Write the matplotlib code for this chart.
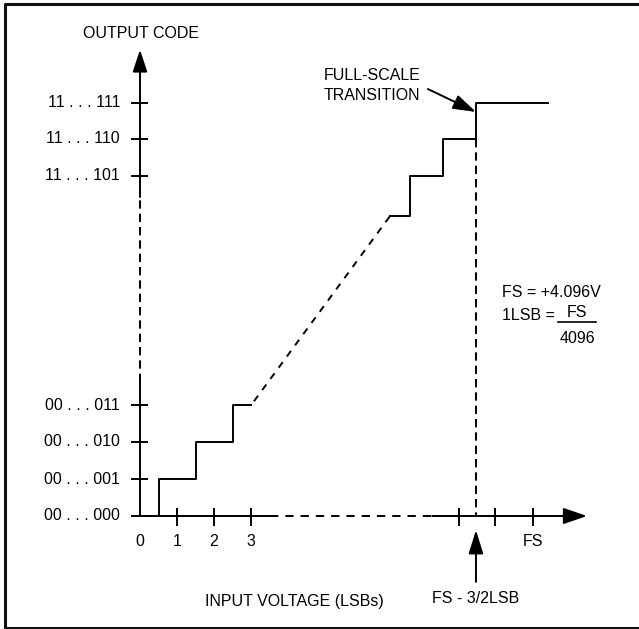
import matplotlib
matplotlib.use('Agg')
import matplotlib.pyplot as plt

plt.rcParams['font.family'] = ['Liberation Sans', 'DejaVu Sans']
plt.rcParams['lines.scale_dashes'] = False

# output codes (y, in LSB steps) and their labels
code_pos = [0, 1, 2, 3, 9.2, 10.2, 11.17]
code_lbl = ['00 . . . 000', '00 . . . 001', '00 . . . 010', '00 . . . 011',
            '11 . . . 101', '11 . . . 110', '11 . . . 111']

# input voltage ticks (x, in LSBs)
vin_pos = [1, 2, 3, 8.62, 9.59, 10.62]
vin_lbl = ['1', '2', '3', '', '', 'FS']

# transfer function: low end and top end of the staircase
low_x = [0, 0.5, 0.5, 1.5, 1.5, 2.5, 2.5, 3.0]
low_y = [0, 0, 1, 1, 2, 2, 3, 3]
high_x = [6.76, 7.3, 7.3, 8.19, 8.19, 9.08, 9.08, 11.03]
high_y = [8.11, 8.11, 9.2, 9.2, 10.2, 10.2, 11.17, 11.17]
fs_trans = 9.08   # FS - 3/2 LSB

px = 37.0  # pixels per LSB
x0, y0 = 140, 516  # origin in pixels

fig = plt.figure(figsize=(6.39, 6.29), dpi=100)
ax = fig.add_axes([0, 0, 1, 1])
ax.set_xlim(-x0 / px, (639 - x0) / px)
ax.set_ylim((y0 - 629) / px, y0 / px)
ax.axis('off')

lw = 1.4
dash = (0, (6, 3.6))
fs = 11.5

# frame
ax.plot([1, 4.5 / 639, 4.5 / 639, 1], [1 - 3.5 / 629, 1 - 3.5 / 629, 1.5 / 629, 1.5 / 629],
        color='#111111', lw=2.2, transform=ax.transAxes, clip_on=False)

# y axis
ax.plot([0, 0], [0, 3.62], color='black', lw=lw)
ax.plot([0, 0], [3.62, 8.62], color='black', lw=lw, ls=dash)
ax.annotate('', xy=(0, 12.6), xytext=(0, 8.62),
            arrowprops=dict(arrowstyle='-|>,head_length=1.35,head_width=0.45',
                            mutation_scale=10, color='black', lw=lw, shrinkA=0, shrinkB=0))
# x axis
ax.plot([0, 3.51], [0, 0], color='black', lw=lw)
ax.plot([3.51, 7.9], [0, 0], color='black', lw=lw, ls=(0, (6, 5)))
ax.annotate('', xy=(12.08, 0), xytext=(7.9, 0),
            arrowprops=dict(arrowstyle='-|>,head_length=1.45,head_width=0.5',
                            mutation_scale=10, color='black', lw=lw, shrinkA=0, shrinkB=0))

# ticks
ax.hlines(code_pos, -0.24, 0.22, color='black', lw=lw)
ax.vlines(vin_pos, -0.27, 0.22, color='black', lw=lw)
for y, s in zip(code_pos, code_lbl):
    ax.text(-0.54, y, s, ha='right', va='center', fontsize=fs)
ax.text(0, -0.7, '0', ha='center', va='center', fontsize=fs)
for x, s in zip(vin_pos, vin_lbl):
    ax.text(x, -0.7, s, ha='center', va='center', fontsize=fs)

# staircase
ax.plot(low_x, low_y, color='black', lw=lw)
ax.plot([3.08, high_x[0]], [3.1, high_y[0]], color='black', lw=lw, ls=(0, (5, 5)))
ax.plot(high_x, high_y, color='black', lw=lw)
ax.plot([fs_trans, fs_trans], [10.2, 0], color='black', lw=lw, ls=dash)

# annotations
ax.text(0.03, 13.05, 'OUTPUT CODE', ha='center', va='center', fontsize=fs)
ax.text(4.16, -2.3, 'INPUT VOLTAGE (LSBs)', ha='center', va='center', fontsize=fs)
ax.annotate('', xy=(fs_trans, -0.38), xytext=(fs_trans, -1.78),
            arrowprops=dict(arrowstyle='-|>,head_length=1.45,head_width=0.45',
                            mutation_scale=10, color='black', lw=lw, shrinkA=0, shrinkB=0))
ax.text(fs_trans, -2.24, 'FS - 3/2LSB', ha='center', va='center', fontsize=fs)
ax.annotate('', xy=(fs_trans, 10.92), xytext=(7.78, 11.54),
            arrowprops=dict(arrowstyle='-|>,head_length=1.4,head_width=0.45',
                            mutation_scale=10, color='black', lw=lw, shrinkA=0, shrinkB=0))
ax.text(4.97, 11.64, 'FULL-SCALE\nTRANSITION', ha='left', va='center',
        fontsize=fs, linespacing=1.4)
ax.text(9.78, 6.05, 'FS = +4.096V', ha='left', va='center', fontsize=fs)
ax.text(9.78, 5.43, '1LSB =', ha='left', va='center', fontsize=fs)
ax.text(11.81, 5.49, 'FS', ha='center', va='center', fontsize=fs)
ax.plot([11.3, 12.32], [5.24, 5.24], color='black', lw=1.2)
ax.text(11.81, 4.81, '4096', ha='center', va='center', fontsize=fs)

fig.savefig('out.png', dpi=100)
